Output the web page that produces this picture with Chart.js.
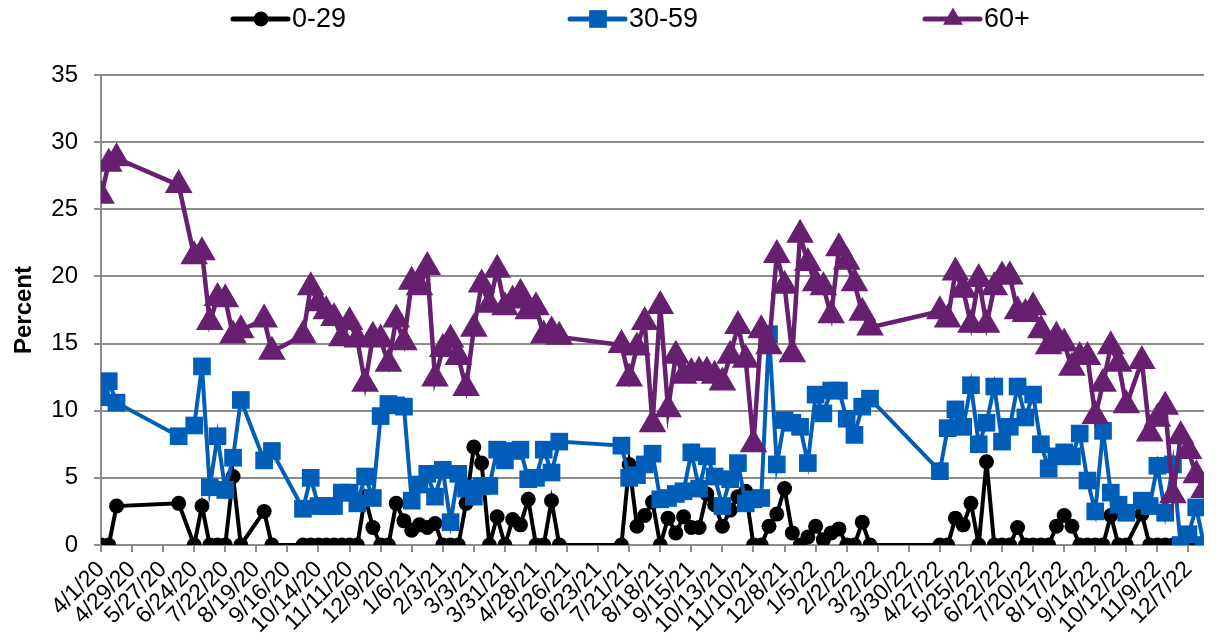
<!DOCTYPE html>
<html>
<head>
<meta charset="utf-8">
<script src="https://cdn.jsdelivr.net/npm/chart.js@4"></script>
<style>
  html, body { margin: 0; padding: 0; background: #fff; }
  #wrap { width: 1220px; height: 643px; }
</style>
</head>
<body>
<div id="wrap"><canvas id="chart" width="1220" height="643"></canvas></div>
<script>
// ---------------------------
// DATA (weekly, gaps = weeks not reported)
// ---------------------------
const dates = [
    '4/1/20', '4/8/20', '4/15/20', '6/10/20', '6/24/20', '7/1/20', '7/8/20', '7/15/20', '7/22/20', '7/29/20', '8/5/20', '8/26/20', '9/2/20',
    '9/30/20', '10/7/20', '10/14/20', '10/21/20', '10/28/20', '11/4/20', '11/11/20', '11/18/20', '11/25/20', '12/2/20', '12/9/20', '12/16/20', '12/23/20', '12/30/20',
    '1/6/21', '1/13/21', '1/20/21', '1/27/21', '2/3/21', '2/10/21', '2/17/21', '2/24/21', '3/3/21', '3/10/21', '3/17/21', '3/24/21', '3/31/21', '4/7/21', '4/14/21', '4/21/21', '4/28/21', '5/5/21', '5/12/21', '5/19/21',
    '7/14/21', '7/21/21', '7/28/21', '8/4/21', '8/11/21', '8/18/21', '8/25/21', '9/1/21', '9/8/21', '9/15/21', '9/22/21', '9/29/21', '10/6/21', '10/13/21', '10/20/21', '10/27/21', '11/3/21', '11/10/21', '11/17/21', '11/24/21', '12/1/21', '12/8/21', '12/15/21', '12/22/21', '12/29/21',
    '1/5/22', '1/12/22', '1/19/22', '1/26/22', '2/2/22', '2/9/22', '2/16/22', '2/23/22',
    '4/27/22', '5/4/22', '5/11/22', '5/18/22', '5/25/22', '6/1/22', '6/8/22', '6/15/22', '6/22/22', '6/29/22', '7/6/22', '7/13/22', '7/20/22', '7/27/22', '8/3/22', '8/10/22', '8/17/22', '8/24/22', '8/31/22', '9/7/22', '9/14/22', '9/21/22', '9/28/22', '10/5/22', '10/12/22',
    '10/26/22', '11/2/22', '11/9/22', '11/16/22', '11/23/22', '11/30/22', '12/7/22', '12/14/22', '12/21/22'
];

const pct0to29 = [
    0, 0, 2.9, 3.1, 0, 2.9, 0, 0, 0, 5.1, 0, 2.5, 0,
    0, 0, 0, 0, 0, 0, 0, 0, 3.6, 1.3, 0, 0, 3.1, 1.8,
    1.1, 1.5, 1.3, 1.6, 0, 0, 0, 3.1, 7.3, 6.1, 0, 2.1, 0, 1.9, 1.5, 3.4, 0, 0, 3.3, 0,
    0, 6.0, 1.4, 2.2, 3.2, 0, 2.0, 0.9, 2.1, 1.3, 1.3, 3.8, 3.0, 1.4, 2.6, 3.6, 4.0, 0, 0, 1.4, 2.3, 4.2, 0.9, 0, 0.6,
    1.4, 0.4, 0.9, 1.2, 0, 0, 1.7, 0,
    0, 0, 2.0, 1.5, 3.1, 0, 6.2, 0, 0, 0, 1.3, 0, 0, 0, 0, 1.4, 2.2, 1.4, 0, 0, 0, 0, 2.2, 0, 0,
    2.3, 0, 0, 0, 0, 0, 0, 0, 0
];

const pct30to59 = [
    11.0, 12.2, 10.6, 8.1, 8.9, 13.3, 4.3, 8.1, 4.1, 6.5, 10.8, 6.3, 7.0,
    2.7, 5.0, 2.9, 2.9, 2.9, 3.9, 3.9, 3.1, 5.1, 3.5, 9.6, 10.5, 10.4, 10.3,
    3.3, 4.5, 5.3, 3.6, 5.6, 1.7, 5.3, 4.2, 3.6, 4.4, 4.4, 7.1, 6.3, 7.0, 7.1, 4.9, 5.0, 7.1, 5.4, 7.7,
    7.4, 5.0, 5.2, 6.0, 6.8, 3.4, 3.5, 3.8, 4.0, 6.9, 4.2, 6.6, 5.1, 2.9, 4.9, 6.1, 3.1, 3.4, 3.5, 15.7, 6.0, 9.3, 9.1, 8.8, 6.1,
    11.2, 9.8, 11.5, 11.5, 9.4, 8.2, 10.3, 10.9,
    5.5, 8.7, 10.1, 8.8, 11.9, 7.5, 9.1, 11.8, 7.7, 8.8, 11.8, 9.5, 11.2, 7.5, 5.7, 6.6, 6.9, 6.6, 8.3, 4.8, 2.5, 8.5, 3.9, 3.0, 2.4,
    3.3, 2.9, 5.9, 2.4, 6.0, 0, 0.8, 2.8, 0
];

const pct60plus = [
    26.0, 28.4, 28.8, 26.8, 21.5, 21.8, 16.6, 18.4, 18.3, 15.6, 16.0, 16.8, 14.4,
    15.6, 19.2, 18.0, 17.4, 16.9, 15.4, 16.6, 15.3, 12.0, 15.5, 15.3, 13.5, 16.8, 15.1,
    19.6, 19.2, 20.7, 12.4, 14.6, 15.3, 14.0, 11.7, 16.1, 19.4, 17.9, 20.5, 17.7, 18.2, 18.7, 17.4, 17.7, 15.6, 15.9, 15.5,
    14.9, 12.4, 14.7, 16.6, 9.0, 17.8, 10.1, 14.1, 12.6, 12.8, 12.9, 12.9, 12.6, 12.1, 14.1, 16.3, 13.8, 7.5, 16.0, 14.8, 21.6, 19.3, 14.2, 23.1, 21.0,
    19.5, 19.2, 17.1, 22.1, 21.1, 19.5, 17.3, 16.2,
    17.4, 16.8, 20.3, 19.0, 16.4, 19.8, 16.4, 19.2, 20.0, 20.0, 17.4, 17.2, 17.7, 16.0, 14.8, 15.5, 15.0, 13.2, 14.0, 14.0, 9.6, 12.0, 14.8, 13.5, 10.4,
    13.7, 8.3, 9.4, 10.3, 3.7, 8.1, 7.0, 5.2, 4.1
];

const tickLabels = [
    '4/1/20', '4/29/20', '5/27/20', '6/24/20', '7/22/20', '8/19/20', '9/16/20', '10/14/20', '11/11/20', '12/9/20',
    '1/6/21', '2/3/21', '3/3/21', '3/31/21', '4/28/21', '5/26/21', '6/23/21', '7/21/21', '8/18/21', '9/15/21', '10/13/21', '11/10/21', '12/8/21',
    '1/5/22', '2/2/22', '3/2/22', '3/30/22', '4/27/22', '5/25/22', '6/22/22', '7/20/22', '8/17/22', '9/14/22', '10/12/22', '11/9/22', '12/7/22'
];

const seriesNames = ['0-29', '30-59', '60+'];

// ---------------------------
// HELPERS
// ---------------------------
const START = Date.UTC(2020, 3, 1);

// m/d/yy -> days since 4/1/20
function dayNumber(s) {
    const [m, d, y] = s.split('/').map(Number);
    return Math.round((Date.UTC(2000 + y, m - 1, d) - START) / 86400000);
}

const days = dates.map(dayNumber);
const tickDays = tickLabels.map(dayNumber);

function toPoints(values) {
    return values.map((v, i) => ({ x: days[i], y: v }));
}

const FONT = '"Liberation Sans", Arial, sans-serif';
Chart.defaults.font.family = FONT;
Chart.defaults.color = '#000';

// marker drawer for the legend (same shapes as the chart points)
function drawMarker(ctx, style, r, x, y) {
    ctx.beginPath();
    if (style === 'circle') {
        ctx.arc(x, y, r, 0, Math.PI * 2);
    } else if (style === 'rect') {
        const s = Math.SQRT1_2 * r;
        ctx.rect(x - s, y - s, 2 * s, 2 * s);
    } else if (style === 'triangle') {
        ctx.moveTo(x, y - r);
        ctx.lineTo(x + Math.sin(Math.PI * 2 / 3) * r, y + r / 2);
        ctx.lineTo(x - Math.sin(Math.PI * 2 / 3) * r, y + r / 2);
        ctx.closePath();
    }
    ctx.fill();
}

// Excel-style legend: line + marker, spread out across the top
const LEGEND_X = [233, 570, 925];
const LEGEND_Y = 19;

const lineLegend = {
    id: 'lineLegend',
    afterDraw(chart) {
        const ctx = chart.ctx;
        ctx.save();
        ctx.font = '27px ' + FONT;
        ctx.textBaseline = 'middle';
        ctx.textAlign = 'left';
        chart.data.datasets.forEach((ds, i) => {
            const x = LEGEND_X[i];
            ctx.strokeStyle = ds.borderColor;
            ctx.lineWidth = 5;
            ctx.lineCap = 'round';
            ctx.beginPath();
            ctx.moveTo(x, LEGEND_Y);
            ctx.lineTo(x + 55, LEGEND_Y);
            ctx.stroke();
            ctx.fillStyle = ds.pointBackgroundColor;
            drawMarker(ctx, ds.pointStyle, ds.pointRadius, x + 28, LEGEND_Y);
            ctx.fillStyle = '#000';
            ctx.fillText(ds.label, x + 59, LEGEND_Y + 1);
        });
        ctx.restore();
    }
};

const colors = ['#000000', '#005EB8', '#66206F'];

new Chart(document.getElementById('chart'), {
    type: 'line',
    data: {
        datasets: [
            {
                label: seriesNames[0],
                data: toPoints(pct0to29),
                borderColor: colors[0],
                pointBackgroundColor: colors[0],
                pointStyle: 'circle',
                pointRadius: 7.5,
                order: 3
            },
            {
                label: seriesNames[1],
                data: toPoints(pct30to59),
                borderColor: colors[1],
                pointBackgroundColor: colors[1],
                pointStyle: 'rect',
                pointRadius: 12.5,
                order: 2
            },
            {
                label: seriesNames[2],
                data: toPoints(pct60plus),
                borderColor: colors[2],
                pointBackgroundColor: colors[2],
                pointStyle: 'triangle',
                pointRadius: 11.5,
                borderWidth: 4.5,
                order: 1
            }
        ]
    },
    options: {
        responsive: false,
        animation: false,
        devicePixelRatio: 1,
        events: [],
        layout: { padding: { top: 75, right: 5, left: 0, bottom: 0 } },
        elements: {
            line: { tension: 0, borderWidth: 4, fill: false },
            point: { borderWidth: 0 }
        },
        plugins: {
            legend: { display: false },
            tooltip: { enabled: false }
        },
        scales: {
            x: {
                type: 'linear',
                min: 0,
                max: days[days.length - 1],
                afterBuildTicks: (scale) => {
                    scale.ticks = tickDays.map(v => ({ value: v }));
                },
                afterFit: (scale) => { scale.height = 98; },
                ticks: {
                    autoSkip: false,
                    minRotation: 45,
                    maxRotation: 45,
                    padding: 4,
                    font: { size: 23 },
                    callback: (value, index) => tickLabels[index]
                },
                grid: { drawOnChartArea: false, drawTicks: true, tickLength: 7, color: '#8c8c8c', lineWidth: 2 },
                border: { display: false }
            },
            y: {
                min: 0,
                max: 35,
                afterFit: (scale) => { scale.width = 101; },
                ticks: { stepSize: 5, padding: 16, font: { size: 24 } },
                grid: { color: '#8c8c8c', lineWidth: 2, tickLength: 7 },
                border: { display: true, color: '#8c8c8c', width: 2 },
                title: {
                    display: true,
                    text: 'Percent',
                    font: { size: 24, weight: 'bold' },
                    padding: { top: 10, bottom: 0 }
                }
            }
        }
    },
    plugins: [lineLegend]
});
</script>
</body>
</html>
